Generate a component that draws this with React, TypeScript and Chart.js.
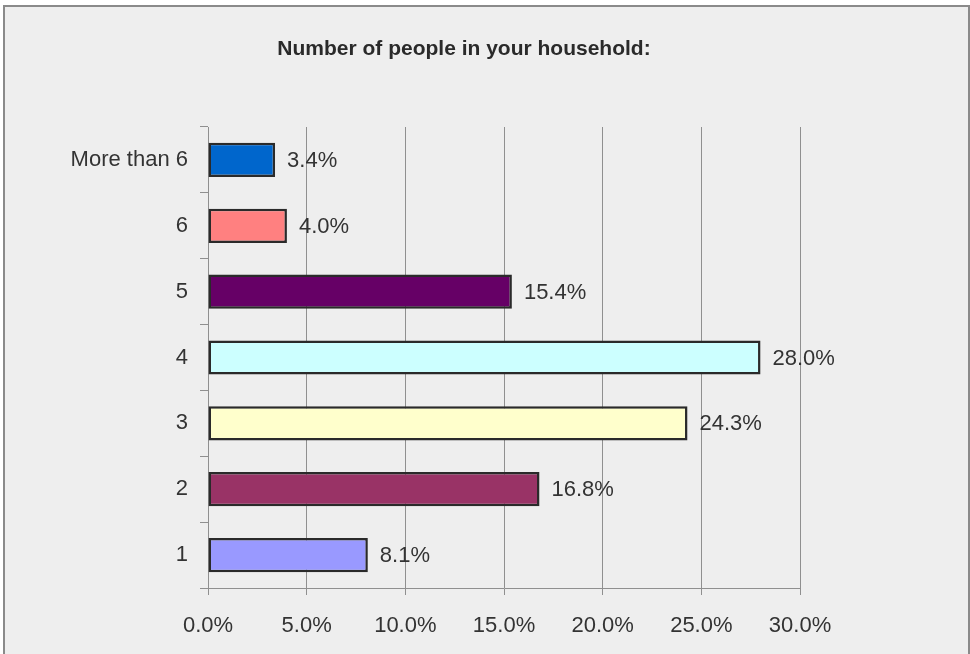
import React, { useEffect, useRef } from "react";
import { Chart, registerables } from "chart.js";

Chart.register(...registerables);

const TITLE = "Number of people in your household:";
const CATEGORIES = ["More than 6", "6", "5", "4", "3", "2", "1"];
const VALUES = [3.4, 4.0, 15.4, 28.0, 24.3, 16.8, 8.1];
const BAR_COLORS = ["#0066cc", "#ff8080", "#660066", "#ccffff", "#ffffcc", "#993366", "#9999ff"];
const X_TICKS = [0, 5, 10, 15, 20, 25, 30];

const FONT = "'Liberation Sans', Arial, sans-serif";

export default function App() {
  const ref = useRef<HTMLCanvasElement | null>(null);

  useEffect(() => {
    if (!ref.current) return;
    const titlePlugin = {
      id: "customTitle",
      afterDraw(chart: any) {
        const ctx = chart.ctx;
        ctx.save();
        ctx.font = `bold 21px ${FONT}`;
        ctx.fillStyle = "#2a2a2a";
        ctx.textAlign = "center";
        ctx.textBaseline = "middle";
        ctx.fillText(TITLE, 464, 49);
        ctx.restore();
      },
    };
    const labelPlugin = {
      id: "valueLabels",
      afterDatasetsDraw(chart: any) {
        const ctx = chart.ctx;
        const meta = chart.getDatasetMeta(0);
        ctx.save();
        ctx.font = `22px ${FONT}`;
        ctx.fillStyle = "#333333";
        ctx.textAlign = "left";
        ctx.textBaseline = "middle";
        meta.data.forEach((bar: any, i: number) => {
          ctx.fillText(VALUES[i].toFixed(1) + "%", bar.x + 12, bar.y + 1);
        });
        ctx.restore();
      },
    };
    const chart = new Chart(ref.current, {
      type: "bar",
      data: {
        labels: CATEGORIES,
        datasets: [
          {
            data: VALUES,
            backgroundColor: BAR_COLORS,
            borderColor: "#2a2a2a",
            borderWidth: 2.5,
            borderSkipped: false,
            barPercentage: 0.52,
            categoryPercentage: 1,
          },
        ],
      },
      options: {
        indexAxis: "y",
        responsive: false,
        animation: false,
        layout: { padding: { top: 127, left: 0, right: 170, bottom: 0 } },
        plugins: {
          legend: { display: false },
          title: { display: false },
          tooltip: { enabled: false },
        },
        scales: {
          x: {
            min: 0,
            max: 30,
            afterFit(scale: any) {
              scale.height = 66;
            },
            afterBuildTicks(scale: any) {
              scale.ticks = X_TICKS.map((v) => ({ value: v }));
            },
            ticks: {
              font: { family: FONT, size: 22 },
              color: "#333333",
              padding: 18,
              maxRotation: 0,
              callback: (v: any) => Number(v).toFixed(1) + "%",
            },
            grid: {
              color: "#8f8f8f",
              lineWidth: 1,
              tickLength: 7,
              drawTicks: true,
            },
            border: { display: true, color: "#8f8f8f", width: 1 },
          },
          y: {
            afterFit(scale: any) {
              scale.width = 208;
            },
            ticks: {
              font: { family: FONT, size: 22 },
              color: "#333333",
              padding: 12,
            },
            grid: {
              drawOnChartArea: false,
              drawTicks: true,
              tickLength: 8,
              color: "#8f8f8f",
              offset: true,
            },
            border: { display: true, color: "#8f8f8f", width: 1 },
          },
        },
      },
      plugins: [titlePlugin, labelPlugin],
    } as any);
    return () => chart.destroy();
  }, []);

  return (
    <div style={{ position: "fixed", left: 0, top: 0, width: 970, height: 654, background: "#ffffff", overflow: "hidden" }}>
      <div
        style={{
          position: "absolute",
          left: 3,
          top: 5,
          width: 967,
          height: 700,
          border: "2px solid #8a8a8a",
          boxSizing: "border-box",
          background: "#eeeeee",
        }}
      />
      <canvas ref={ref} width={970} height={654} style={{ position: "absolute", left: 0, top: 0 }} />
    </div>
  );
}
